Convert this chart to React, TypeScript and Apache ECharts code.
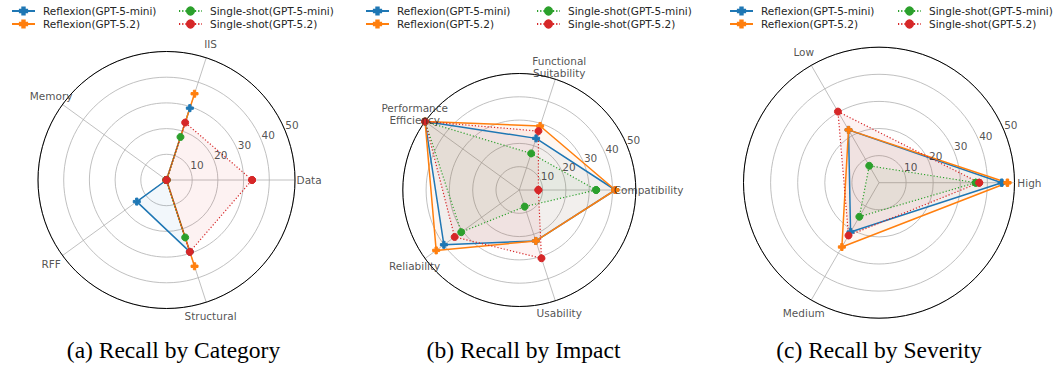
import React, { useEffect, useRef } from 'react';
import * as echarts from 'echarts';

// ---- data ----
const seriesNames = [
  'Reflexion(GPT-5-mini)',
  'Reflexion(GPT-5.2)',
  'Single-shot(GPT-5-mini)',
  'Single-shot(GPT-5.2)',
];
const seriesColors = ['#1f77b4', '#ff7f0e', '#2ca02c', '#d62728'];

// (a) Recall by Category
const categoryAxes = ['Data', 'IIS', 'Memory', 'RFF', 'Structural'];
const categoryReflexionMini = [0, 29.4, 0, 14.3, 29.4];
const categoryReflexion52 = [0, 35.3, 0, 0, 35.3];
const categorySingleMini = [0, 17.6, 0, 0, 23.5];
const categorySingle52 = [33.3, 23.5, 0, 0, 29.4];

// (b) Recall by Impact
const impactAxes = ['Compatibility', 'Functional\nSuitability', 'Performance\nEfficiency', 'Reliability', 'Usability'];
const impactReflexionMini = [41.2, 23.3, 50, 40, 23];
const impactReflexion52 = [41.2, 28.9, 50, 44.1, 23];
const impactSingleMini = [33, 16.5, 50, 30.8, 7.5];
const impactSingle52 = [8.2, 26.6, 50, 34.3, 30.8];

// (c) Recall by Severity
const severityAxes = ['High', 'Low', 'Medium'];
const severityReflexionMini = [45.3, 22.5, 21];
const severityReflexion52 = [47.4, 22.5, 27.4];
const severitySingleMini = [35.7, 7.2, 14.5];
const severitySingle52 = [37, 30.3, 22.5];

const radialTicks = [10, 20, 30, 40, 50];
const captions = ['(a) Recall by Category', '(b) Recall by Impact', '(c) Recall by Severity'];

// ---- layout ----
const panels = [
  {
    axes: categoryAxes,
    values: [categoryReflexionMini, categoryReflexion52, categorySingleMini, categorySingle52],
    center: [166.5, 180],
    radius: 128.5,
    legendLeft: [11, 178],
    captionX: 173.5,
  },
  {
    axes: impactAxes,
    values: [impactReflexionMini, impactReflexion52, impactSingleMini, impactSingle52],
    center: [519.3, 190],
    radius: 116.5,
    legendLeft: [365, 536],
    captionX: 523.5,
  },
  {
    axes: severityAxes,
    values: [severityReflexionMini, severityReflexion52, severitySingleMini, severitySingle52],
    center: [879, 182.7],
    radius: 135.5,
    legendLeft: [729, 897],
    captionX: 879,
  },
];

const PLUS = 'path://M2,0H4V2H6V4H4V6H2V4H0V2H2Z';
const FONT = 'DejaVu Sans';
const TEXT = '#262626';
const GRID = '#b0b0b0';

function buildOption() {
  const polar: any[] = [];
  const angleAxis: any[] = [];
  const radiusAxis: any[] = [];
  const series: any[] = [];
  const legend: any[] = [];
  const graphic: any[] = [];

  panels.forEach((p, i) => {
    const n = p.axes.length;
    const step = 360 / n;
    polar.push({ center: p.center, radius: p.radius });
    angleAxis.push({
      polarIndex: i,
      type: 'value',
      min: 0,
      max: 360,
      interval: step,
      startAngle: 0,
      clockwise: false,
      axisLine: { show: true, lineStyle: { color: '#000', width: 1 } },
      axisTick: { show: false },
      axisLabel: { show: false },
      splitLine: { show: true, lineStyle: { color: GRID, width: 0.8 } },
      z: 1,
    });
    radiusAxis.push({
      polarIndex: i,
      type: 'value',
      min: 0,
      max: 50,
      interval: 10,
      axisLine: { show: false },
      axisTick: { show: false },
      axisLabel: { show: false },
      splitLine: { show: true, lineStyle: { color: GRID, width: 0.8 } },
      z: 0,
    });

    p.values.forEach((vals, s) => {
      const reflex = s < 2;
      const data = vals.map((v, k) => [v, k * step]);
      data.push([vals[0], 360]);
      series.push({
        type: 'line',
        name: seriesNames[s],
        coordinateSystem: 'polar',
        polarIndex: i,
        data,
        clip: false,
        symbol: reflex ? PLUS : 'circle',
        symbolSize: 7,
        showAllSymbol: true,
        itemStyle: { color: seriesColors[s], borderColor: seriesColors[s], borderWidth: 1 },
        lineStyle: reflex
          ? { color: seriesColors[s], width: 1.5, type: 'solid' }
          : { color: seriesColors[s], width: 1.2, type: [1.2, 2] },
        areaStyle: { color: seriesColors[s], opacity: 0.06 },
        silent: true,
        z: 3,
      });
    });

    // category labels
    series.push({
      type: 'scatter',
      coordinateSystem: 'polar',
      polarIndex: i,
      clip: false,
      silent: true,
      symbol: 'circle',
      symbolSize: 1,
      itemStyle: { color: 'transparent' },
      data: p.axes.map((name, k) => ({ name, value: [55.5, k * step] })),
      label: {
        show: true,
        position: 'inside',
        formatter: '{b}',
        fontFamily: FONT,
        fontSize: 10.5,
        lineHeight: 12,
        color: TEXT,
        align: 'center',
        verticalAlign: 'middle',
      },
      z: 5,
    });

    // radial tick labels
    series.push({
      type: 'scatter',
      coordinateSystem: 'polar',
      polarIndex: i,
      clip: false,
      silent: true,
      symbol: 'circle',
      symbolSize: 1,
      itemStyle: { color: 'transparent' },
      data: radialTicks.map((v) => ({ name: String(v), value: [v, 22.5] })),
      label: {
        show: true,
        position: 'inside',
        formatter: '{b}',
        fontFamily: FONT,
        fontSize: 10.5,
        color: TEXT,
        align: 'left',
        verticalAlign: 'bottom',
      },
      z: 5,
    });

    [0, 1].forEach((c) => {
      legend.push({
        orient: 'vertical',
        left: p.legendLeft[c],
        top: 5,
        padding: 0,
        itemWidth: 23,
        itemHeight: 9,
        itemGap: 1,
        selectedMode: false,
        data: [seriesNames[c * 2], seriesNames[c * 2 + 1]],
        textStyle: {
          fontFamily: FONT,
          fontSize: 10.5,
          lineHeight: 12,
          color: TEXT,
          padding: [0, 0, 0, 3],
        },
      });
    });

    graphic.push({
      type: 'text',
      x: p.captionX,
      y: 350,
      style: {
        text: captions[i],
        fontFamily: 'Liberation Serif',
        fontSize: 23.5,
        fill: '#000',
        align: 'center',
        verticalAlign: 'middle',
      },
    });
  });

  return {
    animation: false,
    backgroundColor: '#fff',
    polar,
    angleAxis,
    radiusAxis,
    legend,
    series,
    graphic,
  };
}

export default function App() {
  const ref = useRef<HTMLDivElement>(null);
  useEffect(() => {
    if (!ref.current) return;
    const chart = echarts.init(ref.current, undefined, { renderer: 'svg' });
    chart.setOption(buildOption() as any);
    return () => chart.dispose();
  }, []);
  return (
    <div
      ref={ref}
      style={{ position: 'absolute', left: 0, top: 0, width: 1055, height: 365 }}
    />
  );
}
